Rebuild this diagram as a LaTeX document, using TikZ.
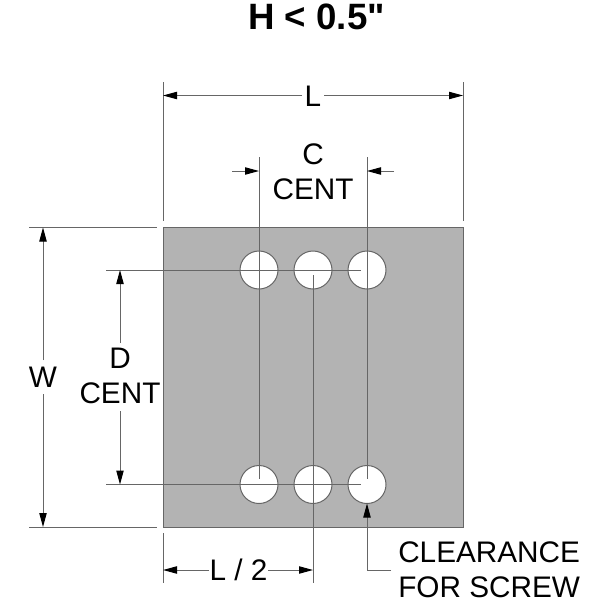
\documentclass[tikz,border=0pt]{standalone}
\usepackage{fontspec}
\setmainfont{Liberation Sans}
\newfontfamily\titlefont{Liberation Sans}
\usetikzlibrary{arrows.meta}
\definecolor{plate}{HTML}{B3B3B3}
\definecolor{inkline}{HTML}{666666}
\tikzset{
  line/.style={draw=inkline,line width=0.75pt},
  dimarrow/.style={line,-{Triangle[length=10.5pt,width=5.5pt,color=black]}},
  platebox/.style={line,fill=plate},
  hole/.style={circle,draw=inkline,line width=0.75pt,fill=white,minimum size=28.5pt,inner sep=0pt},
  label/.style={font=\fontsize{22.3pt}{26pt}\selectfont,inner sep=0pt,text=black,align=center},
}
\begin{document}
\begin{tikzpicture}[x=0.75pt,y=-0.75pt]
\useasboundingbox (0,0) rectangle (600,600);
\fill[white] (0,0) rectangle (600,600);
% plate
\path[platebox] (163,227.5) rectangle (463,527);
% holes
\node[hole] (h1) at (259,270) {};
\node[hole] (h2) at (313,270) {};
\node[hole] (h3) at (367,270) {};
\node[hole] (h4) at (259,484.5) {};
\node[hole] (h5) at (313,484.5) {};
\node[hole] (h6) at (367,484.5) {};
% title
\node[inner sep=0pt,font=\titlefont\fontsize{27.5pt}{32pt}\selectfont\bfseries] (title) at (316.5,17) {H < 0.5"};
% labels
\node[label] (Lt) at (313,96) {L};
\node[label] (Ct) at (313,171.5) {C\\[0pt]CENT};
\node[label] (Wt) at (43,377) {W};
\node[label] (Dt) at (120,376) {D\\[0pt]CENT};
\node[label] (L2t) at (238.5,570) {L / 2};
\node[label,align=left,anchor=west] (Cl) at (398,570) {CLEARANCE\\[0pt]FOR SCREW};
% extension-line end points
\coordinate (eL1a) at (163,82);  \coordinate (eL1b) at (163,221);
\coordinate (eL2a) at (463,82);  \coordinate (eL2b) at (463,221);
\coordinate (eW1a) at (29,227.5); \coordinate (eW1b) at (157,227.5);
\coordinate (eW2a) at (29,527);  \coordinate (eW2b) at (157,527);
\coordinate (c1a) at (259,157);  \coordinate (c1b) at (259,479);
\coordinate (c2a) at (367,157);  \coordinate (c2b) at (367,479);
\coordinate (m1a) at (313,275);  \coordinate (m1b) at (313,583);
\coordinate (d1a) at (106,270);  \coordinate (d1b) at (361,270);
\coordinate (d2a) at (106,484.5);\coordinate (d2b) at (361,484.5);
\coordinate (h2a) at (163,533);  \coordinate (h2b) at (163,583);
\draw[line] (eL1a) -- (eL1b);
\draw[line] (eL2a) -- (eL2b);
\draw[line] (eW1a) -- (eW1b);
\draw[line] (eW2a) -- (eW2b);
\draw[line] (c1a) -- (c1b);
\draw[line] (c2a) -- (c2b);
\draw[line] (m1a) -- (m1b);
\draw[line] (d1a) -- (d1b);
\draw[line] (d2a) -- (d2b);
\draw[line] (h2a) -- (h2b);
% L dimension
\coordinate (L1) at (163,95.5); \coordinate (L2) at (463,95.5);
\coordinate (La) at (302,95.5); \coordinate (Lb) at (324,95.5);
\draw[dimarrow] (La) -- (L1);
\draw[dimarrow] (Lb) -- (L2);
% C dimension
\coordinate (C1o) at (232,171); \coordinate (C1) at (259,171);
\coordinate (C2o) at (394,171); \coordinate (C2) at (367,171);
\draw[dimarrow] (C1o) -- (C1);
\draw[dimarrow] (C2o) -- (C2);
% W dimension
\coordinate (W1) at (43,227.5); \coordinate (W2) at (43,527);
\coordinate (Wa) at (43,360); \coordinate (Wb) at (43,394);
\draw[dimarrow] (Wa) -- (W1);
\draw[dimarrow] (Wb) -- (W2);
% D dimension
\coordinate (D1) at (120,270); \coordinate (D2) at (120,484.5);
\coordinate (Da) at (120,343); \coordinate (Db) at (120,411);
\draw[dimarrow] (Da) -- (D1);
\draw[dimarrow] (Db) -- (D2);
% L/2 dimension
\coordinate (H1) at (163,570); \coordinate (H2) at (313,570);
\coordinate (Ha) at (209,570); \coordinate (Hb) at (268,570);
\draw[dimarrow] (Ha) -- (H1);
\draw[dimarrow] (Hb) -- (H2);
% leader
\coordinate (Le) at (391,570); \coordinate (Lc) at (367,570); \coordinate (Lt2) at (367,503.5);
\draw[dimarrow] (Le) -- (Lc) -- (Lt2);
\end{tikzpicture}
\end{document}
